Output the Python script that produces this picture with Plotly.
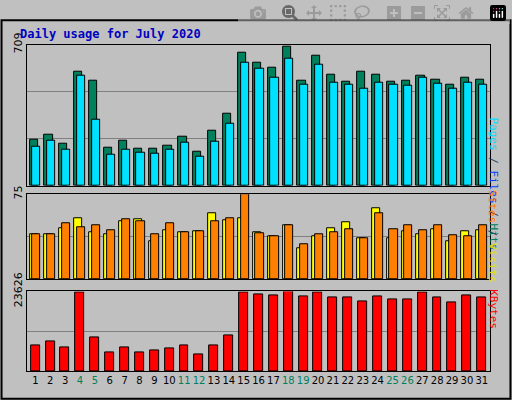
import plotly.graph_objects as go

days = list(range(1, 32))
weekend = [4, 5, 11, 12, 18, 19, 25, 26]
hits = [230,254,211,575,527,192,225,187,187,201,244,172,278,364,671,618,594,699,527,656,556,522,575,556,522,527,551,532,508,541,532]
files = [196,225,182,551,331,158,182,168,163,182,216,144,220,311,618,589,541,637,508,608,517,508,489,517,508,503,541,513,489,517,508]
visits = [39.6,39.6,44.7,53.9,41.3,39.6,51.4,53.1,33.7,43,41.3,42.1,58.1,52.2,53.9,41.3,37.9,47.2,27,37.9,44.7,50.6,36.2,62.4,36.2,42.1,39.6,43.8,33.7,42.1,43]
sites = [39.6,39.6,49.7,45.5,48,43,53.1,51.4,39.6,49.7,41.3,42.1,51.4,53.9,75,40.4,37.9,47.2,31.2,39.6,41.3,43.8,36.2,58.1,43.8,48,43,48,38.8,37.9,47.2]
kbytes = [7594,8719,7032,23400,10125,5625,7032,5625,6188,6750,7594,5063,7594,10688,23345,22782,22501,23626,22220,23345,21938,21938,20532,22220,21376,21376,23345,21938,20251,22501,21938]
max_hits, max_visits, max_kb = 709, 75, 23626

fig = go.Figure()
def bar(y, color, off, ax):
    fig.add_trace(go.Bar(x=days, y=y, offset=off, width=0.55, marker=dict(color=color, line=dict(color="#000000", width=1)), xaxis="x"+ax, yaxis="y"+ax, showlegend=False))
bar(hits, "#00805C", -0.38, "")
bar(files, "#00E0FF", -0.2, "")
bar(visits, "#FFFF00", -0.38, "2")
bar(sites, "#FF8000", -0.2, "2")
fig.add_trace(go.Bar(x=days, y=kbytes, offset=-0.3, width=0.6, marker=dict(color="#FF0000", line=dict(color="#000000", width=1)), xaxis="x3", yaxis="y3", showlegend=False))

ticktext = [f"<span style='color:#00805C'>{d}</span>" if d in weekend else str(d) for d in days]
xd = [0.053, 0.957]
common = dict(range=[0.45, 31.55], showgrid=False, zeroline=False, showline=True, linecolor="#000", mirror=True, domain=xd, fixedrange=True)
def yax(mx, dom, grid):
    return dict(range=[0, mx * 1.0], domain=dom, tickvals=grid + [mx], ticktext=[""] * len(grid) + [str(mx)], tickangle=-90,
                showgrid=True, gridcolor="#808080", zeroline=False, showline=True, linecolor="#000", mirror=True,
                tickfont=dict(family="DejaVu Sans", size=11, color="#000"), ticks="")
fig.update_layout(
    width=512, height=400, barmode="overlay", bargap=0,
    paper_bgcolor="#C0C0C0", plot_bgcolor="#C0C0C0",
    margin=dict(l=0, r=0, t=0, b=0),
    xaxis=dict(**common, showticklabels=False, anchor="y"),
    xaxis2=dict(**common, showticklabels=False, anchor="y2"),
    xaxis3=dict(**common, tickvals=days, ticktext=ticktext, tickangle=0, tickfont=dict(family="DejaVu Sans", size=10, color="#000"), anchor="y3", ticks=""),
    yaxis=yax(max_hits, [0.5625, 0.9325], [236, 473]),
    yaxis2=yax(max_visits, [0.3175, 0.54], [37.5]),
    yaxis3=yax(max_kb, [0.075, 0.285], [11813]),
    shapes=[dict(type="rect", xref="paper", yref="paper", x0=0.003, x1=0.997, y0=0.003, y1=0.997, line=dict(color="#000", width=2))],
    annotations=[
        dict(text="<b>Daily usage for July 2020</b>", x=0.035, y=0.985, xref="paper", yref="paper", xanchor="left", yanchor="top", showarrow=False, font=dict(family="DejaVu Sans Mono", size=12, color="#0000C0")),
        dict(text="<span style='color:#00E0FF'>Pages</span> / <span style='color:#0040FF'>Files</span> / <span style='color:#00805C'>Hits</span>", x=0.98, y=0.7475, xref="paper", yref="paper", textangle=90, showarrow=False, font=dict(family="DejaVu Sans Mono", size=11)),
        dict(text="<span style='color:#FF8000'>Sites</span> / <span style='color:#E0E000'>Visits</span>", x=0.98, y=0.43, xref="paper", yref="paper", textangle=90, showarrow=False, font=dict(family="DejaVu Sans Mono", size=11)),
        dict(text="<span style='color:#FF0000'>KBytes</span>", x=0.98, y=0.18, xref="paper", yref="paper", textangle=90, showarrow=False, font=dict(family="DejaVu Sans Mono", size=11)),
    ],
)
fig.write_html("out.html", post_script="document.body.style.margin='0';document.body.style.overflow='hidden';")
